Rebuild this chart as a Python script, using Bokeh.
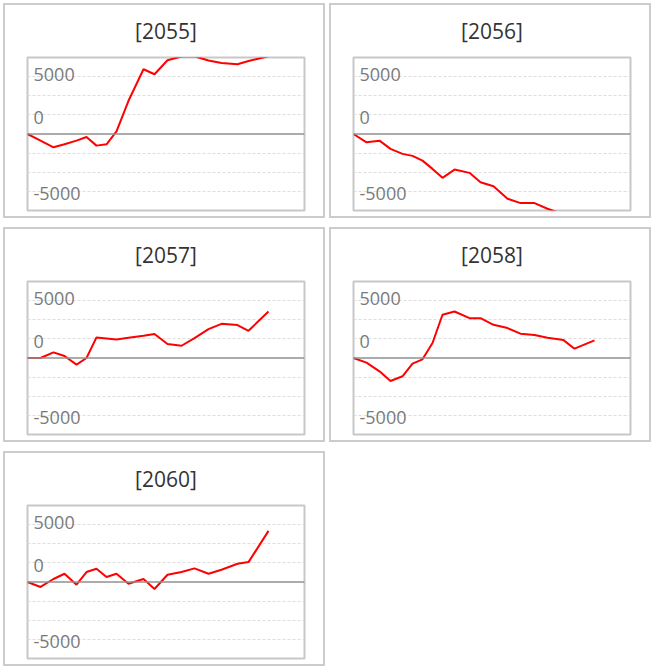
from bokeh.plotting import figure
from bokeh.models import Range1d, FixedTicker, Span, ColumnDataSource
from bokeh.layouts import column, row
from bokeh.embed import file_html
from bokeh.resources import INLINE
from bokeh.core.properties import value

# ---- data ----
days = [0, 13, 26, 37, 49, 59, 69, 79, 89, 101, 116, 127, 140, 154, 167, 181, 194, 210, 221, 241]

titles = ["[2055]", "[2056]", "[2057]", "[2058]", "[2060]"]

s2055 = [0, -870, -1740, -1330, -870, -390, -1520, -1350, 340, 4340, 8460, 7810,
         9640, 10130, 10170, 9610, 9280, 9110, 9540, 10170]
s2056 = [0, -1090, -870, -1950, -2600, -2860, -3480, -4560, -5730, -4650, -5080, -6300,
         -6820, -8460, -9030, -9030, -9770, -10500, -11000, -11300]
s2057 = [0, 0, 730, 260, -870, 0, 2690, 2560, 2430, 2650, 2900, 3130,
         1820, 1600, 2600, 3780, 4470, 4300, 3560, 6070]
s2058 = [0, -610, -1740, -3000, -2390, -740, -170, 1960, 5650, 6080, 5210, 5210,
         4340, 3910, 3180, 3000, 2650, 2340, 1220, 2300]
s2060 = [0, -650, 390, 1080, -350, 1300, 1730, 650, 1080, -220, 390, -910,
         950, 1300, 1780, 1080, 1600, 2380, 2600, 6680]

series = [s2055, s2056, s2057, s2058, s2060]

tick_labels = ["5000", "0", "-5000"]
tick_label_y = [7720, 2120, -7770]
grid_ticks = [-7500, -5000, -2500, 2500, 5000, 7500]

X_START, X_END = 0, 277
Y_START, Y_END = -10000, 10000

FONT = "Open Sans"


def make_panel(title, vals):
    p = figure(width=322, height=215, output_backend="svg", toolbar_location=None, tools="",
               x_range=Range1d(X_START, X_END), y_range=Range1d(Y_START, Y_END),
               x_axis_location=None, y_axis_location=None,
               min_border_left=22, min_border_right=23, min_border_top=52, min_border_bottom=10)
    p.styles = {"border": "2px solid #cccccc"}
    p.background_fill_color = "white"
    p.border_fill_color = "white"
    p.outline_line_color = "#c8c8c8"
    p.outline_line_width = 2

    p.title.text = title
    p.title.align = "center"
    p.title.vertical_align = "top"
    p.title.standoff = 22
    p.title.text_font = FONT
    p.title.text_font_size = "21px"
    p.title.text_font_style = "normal"
    p.title.text_color = "#333333"

    p.xgrid.visible = False
    p.ygrid.ticker = FixedTicker(ticks=grid_ticks)
    p.ygrid.grid_line_color = "#dddddd"
    p.ygrid.grid_line_dash = "3 2"
    p.ygrid.grid_line_width = 1

    p.add_layout(Span(location=0, dimension="width", line_color="#909090", line_width=1.6))

    lab_src = ColumnDataSource(dict(x=[X_START] * len(tick_labels), y=tick_label_y, t=tick_labels))
    p.text(x="x", y="y", text="t", source=lab_src, x_offset=6,
           text_font=value(FONT), text_font_size="18px", text_color="#7a7a7a",
           text_align="left", text_baseline="middle")

    p.line(days, vals, line_color="#ff0000", line_width=2)
    return p


panels = [make_panel(t, s) for t, s in zip(titles, series)]

layout = column(
    row(panels[0], panels[1], spacing=4),
    row(panels[2], panels[3], spacing=4),
    row(panels[4]),
    spacing=9,
    margin=(3, 0, 0, 3),
)

with open("out.html", "w") as f:
    f.write(file_html(layout, INLINE))
